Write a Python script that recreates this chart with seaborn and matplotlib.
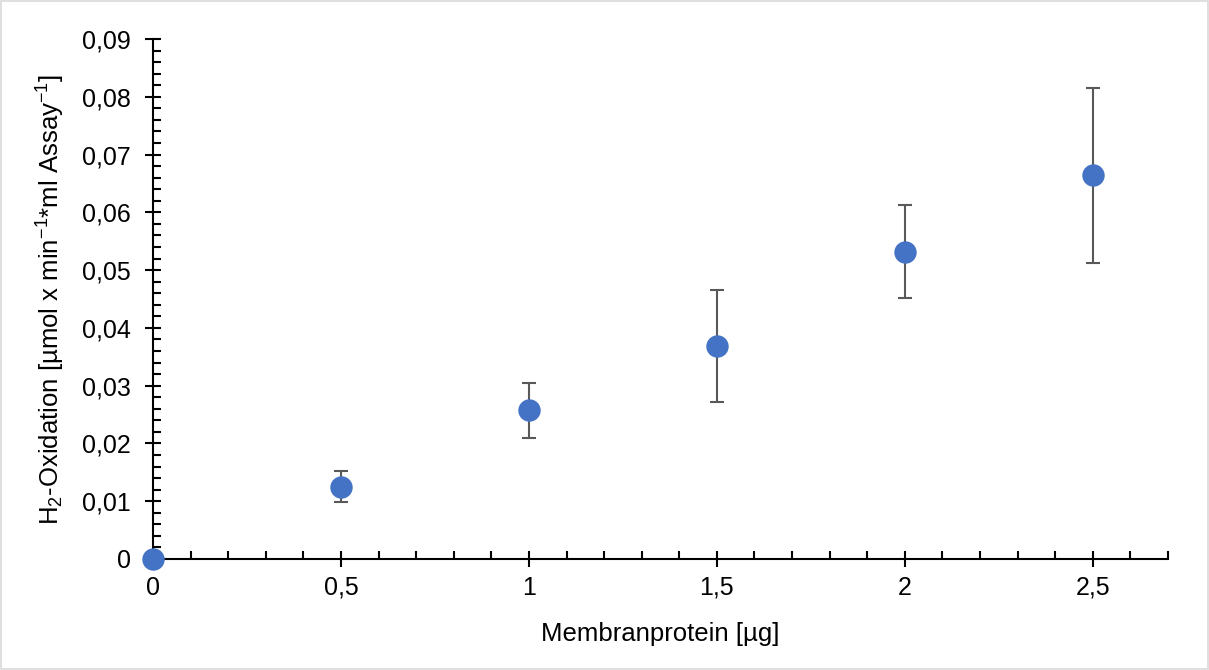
import matplotlib
matplotlib.use("Agg")
import matplotlib.pyplot as plt
import seaborn as sns
import pandas as pd
from matplotlib.ticker import MultipleLocator, FixedLocator, FixedFormatter
from matplotlib.patches import Rectangle

# Data
protein = [0, 0.5, 1, 1.5, 2, 2.5]
oxidation = [0.0, 0.0125, 0.0257, 0.0368, 0.0532, 0.0665]
err_low = [0.0, 0.0027, 0.0047, 0.0097, 0.0080, 0.0152]
err_high = [0.0, 0.0027, 0.0048, 0.0097, 0.0081, 0.0151]
x_ticks = [0, 0.5, 1, 1.5, 2, 2.5]
x_labels = ["0", "0,5", "1", "1,5", "2", "2,5"]
y_ticks = [0, 0.01, 0.02, 0.03, 0.04, 0.05, 0.06, 0.07, 0.08, 0.09]
y_labels = ["0", "0,01", "0,02", "0,03", "0,04", "0,05", "0,06", "0,07", "0,08", "0,09"]

sns.set_style("white")
plt.rcParams["font.family"] = ["Liberation Sans", "DejaVu Sans"]
plt.rcParams["mathtext.fontset"] = "custom"
plt.rcParams["mathtext.rm"] = "Liberation Sans"
plt.rcParams["mathtext.it"] = "Liberation Sans"

df = pd.DataFrame({"x": protein, "y": oxidation})

fig = plt.figure(figsize=(12.09, 6.70), dpi=100)
ax = fig.add_axes([0.1266, 0.1657, 0.966 - 0.1266, 0.9418 - 0.1657])

ax.errorbar(protein, oxidation, yerr=[err_low, err_high], fmt="none",
            ecolor="#595959", elinewidth=1.5, capsize=5, capthick=1.5, zorder=2)
sns.scatterplot(data=df, x="x", y="y", ax=ax, color="#4472C4", s=260,
                edgecolor="#4472C4", linewidth=0, zorder=3, clip_on=False)

ax.set_xlim(0, 2.7)
ax.set_ylim(0, 0.09)
ax.xaxis.set_major_locator(FixedLocator(x_ticks))
ax.xaxis.set_major_formatter(FixedFormatter(x_labels))
ax.yaxis.set_major_locator(FixedLocator(y_ticks))
ax.yaxis.set_major_formatter(FixedFormatter(y_labels))
ax.xaxis.set_minor_locator(MultipleLocator(0.1))
ax.yaxis.set_minor_locator(MultipleLocator(0.002))

for s in ["top", "right"]:
    ax.spines[s].set_visible(False)
for s in ["left", "bottom"]:
    ax.spines[s].set_color("#000000")
    ax.spines[s].set_linewidth(1.5)

ax.tick_params(which="major", direction="inout", length=12, width=1.5,
               color="#000000", labelsize=18, labelcolor="#000000")
ax.tick_params(axis="x", which="major", pad=6)
ax.tick_params(axis="y", which="major", pad=10)
ax.tick_params(which="minor", direction="in", length=6, width=1.5, color="#000000")
ax.tick_params(axis="x", which="both", bottom=True)
ax.tick_params(axis="y", which="both", left=True)

ax.set_xlabel("Membranprotein [µg]", fontsize=18.5, color="#000000", labelpad=16)
ax.set_ylabel(r"H$_{2}$-Oxidation [µmol x min$^{-1}$*ml Assay$^{-1}$]",
              fontsize=18.5, color="#000000", labelpad=11)

fig.patches.append(Rectangle((0.001, 0.001), 0.998, 0.997, transform=fig.transFigure,
                             fill=False, edgecolor="#d9d9d9", linewidth=1.2))

fig.savefig("out.png", dpi=100)
